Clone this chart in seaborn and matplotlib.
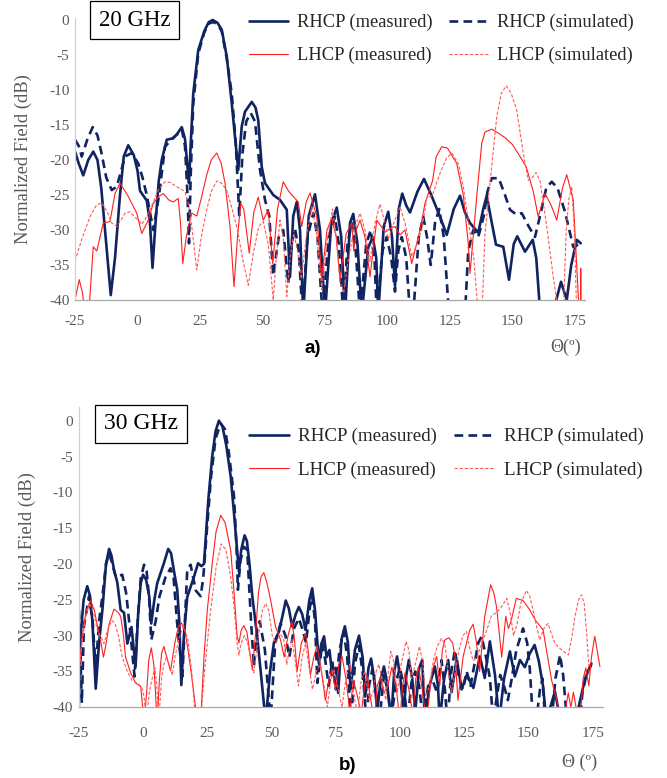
import numpy as np
import pandas as pd
import matplotlib
matplotlib.use("Agg")
import matplotlib.pyplot as plt
import seaborn as sns

# ---- 20 GHz data (theta in deg, normalized field in dB) ----
th20_rhcp_meas = [-25, -23.5, -21.7, -19.7, -17.7, -16, -14.5, -12.5, -10.7, -9, -7, -5.5, -3.7, -1.5, 0, 1, 3.7, 5, 6, 7.2, 8.5, 9.7, 11.7, 14.3, 16, 17.7, 19, 20, 20.6, 21.3, 22.3, 24.3, 26.7, 28.5, 30.1, 32, 33.7, 35.7, 37.7, 39, 40.3, 41.7, 43, 45.7, 47.2, 48.3, 49.7, 51, 54.3, 57, 59.7, 61, 62.3, 63.7, 65, 66.3, 68.5, 71, 73, 75, 77.5, 79.7, 81.5, 83, 85, 86.3, 88, 89.7, 92.3, 94.1, 95.5, 96.3, 98.5, 100.3, 101.8, 103, 104.5, 105.9, 107.5, 109, 112, 114.6, 117.5, 121, 123.7, 126.5, 129, 131, 133, 136.3, 138.3, 139.7, 141.2, 143.4, 146.3, 148.6, 150.5, 151.9, 155, 158.1, 159.5, 160.7, 162, 166, 167.5, 169.4, 171.7, 173.5, 175.7, 177.3]
db20_rhcp_meas = [-18.8, -20.5, -22.2, -20, -18.8, -20, -24, -32, -39.3, -34, -25, -19.5, -17.9, -19.3, -21.5, -24.4, -25.8, -29, -35.4, -29, -23, -20, -17.1, -16.9, -16.2, -15.3, -17, -21, -23.3, -17.6, -10.5, -4.3, -1.6, -0.3, 0, -0.4, -1.4, -5.2, -11.9, -16.7, -21.4, -15.2, -13.1, -11.7, -12.5, -14.3, -21, -23.3, -25, -25.7, -27.1, -36.7, -28, -26, -30, -42, -28, -24.9, -30, -42, -29, -26.8, -31, -42, -29, -27.7, -32, -42, -32.5, -31, -34, -42, -29.5, -27.4, -31, -38, -27, -24.8, -26.5, -27.5, -24.5, -22.7, -25, -28.1, -30.7, -27, -25.1, -27.5, -29, -30.4, -27, -25.1, -28, -32.1, -32.4, -37.1, -32, -30.9, -33.1, -31.4, -34, -40, -45, -45, -40, -37.4, -40, -35, -31.4, -31.9]

th20_rhcp_sim = [-25, -23.5, -22.3, -20, -17.9, -16, -14.4, -12.5, -10.3, -8.3, -6.5, -5, -2.3, 0.3, 2, 3.7, 5, 6.3, 7.5, 8.7, 11, 14.3, 16, 17.7, 19, 20, 20.6, 21.3, 22.3, 24.3, 26.7, 28.5, 30.3, 32, 33.7, 35.7, 37.7, 39.3, 40.7, 42, 43.5, 45.3, 47, 49, 51, 52.7, 54.3, 56.5, 58.3, 60.3, 61.5, 63, 64.5, 66, 68, 70.3, 72, 74, 76.5, 79, 80.5, 82.3, 84, 85.7, 87.3, 89, 91.5, 93.3, 94.8, 95.7, 98, 99.7, 101.5, 103, 104.3, 105.7, 107.5, 109, 110.3, 112.5, 114.3, 115.8, 117.3, 119, 120.7, 122.5, 124.6, 131, 132.3, 134.3, 136.3, 138.5, 140, 141.7, 144.5, 147, 149, 151.5, 153.7, 156.5, 159, 161, 163.5, 165.7, 168, 171, 174.3, 177]
db20_rhcp_sim = [-17.1, -18, -19.5, -17, -15.3, -16.5, -19, -22.5, -24.3, -23.8, -21.5, -19.5, -19, -20.5, -22.5, -25, -27.5, -30, -27.5, -24.8, -18.1, -16.8, -16.3, -15.6, -18, -25, -31.9, -22, -12, -4.8, -1.8, -0.5, -0.3, -0.6, -1.6, -5.5, -10.5, -17.5, -27.9, -19, -14.5, -13.3, -14.5, -21.4, -25.7, -28, -36.5, -31, -30, -37.6, -32, -29.8, -33, -42, -31, -27.6, -31, -42, -31, -28.1, -32, -42, -32, -29, -33, -42, -32, -30, -34, -42, -33, -31, -34, -38.8, -33, -31, -34, -42, -42, -31, -28.1, -31, -35, -29, -27, -31, -42, -42, -33, -30, -31, -28, -24.5, -22.6, -22.6, -25, -27.1, -27.8, -27.6, -29.5, -31, -28, -24, -23.1, -24, -27.4, -32.4, -32]

th20_lhcp_meas = [-25, -23.3, -22, -21, -19.5, -17.7, -16.3, -13.7, -11, -9, -7, -3.7, -0.3, 1.7, 4.3, 6.3, 8.5, 10.3, 12.5, 14.3, 16.3, 17.2, 18.1, 19.5, 21.7, 23.7, 25.5, 27.7, 29.5, 31.7, 33.5, 35, 37, 38.6, 40, 41.3, 42.5, 44.7, 46.5, 48.3, 50.3, 52.3, 54.1, 56, 58.3, 60.5, 62.3, 64.3, 65.7, 67.5, 69, 71.7, 73.7, 75.8, 77.7, 79.5, 81, 83.5, 85.7, 86.5, 87.5, 89, 91, 93, 95.7, 97.5, 99, 101, 103, 105, 107, 109.7, 113, 115, 118, 119.5, 121.7, 124, 126, 127.7, 130.3, 132.3, 133, 135.7, 137.7, 139, 141.7, 144.5, 147, 150, 153, 155.5, 158.3, 160.3, 163, 165.5, 167.7, 170, 171.7, 174.3, 176.7, 177.2, 177.3, 177.4]
db20_lhcp_meas = [-40, -37.1, -39, -42, -42, -32.4, -33, -29, -28.8, -24.8, -23.3, -25.2, -27.6, -30.5, -28.6, -26.2, -25.2, -24.8, -25.7, -26, -25.5, -29, -34.8, -31, -27.6, -28, -25.5, -22.1, -20, -19, -20.5, -23.3, -29.5, -38.1, -31, -26.2, -27, -33.3, -27.5, -25.3, -28.6, -27.1, -34.8, -27, -23.1, -24.5, -25.2, -26, -29.5, -26, -24.7, -28.1, -36.7, -30, -28.3, -31, -37.1, -30.5, -29, -33, -30, -28.6, -31, -36.7, -28.6, -29.5, -30.3, -29.8, -29.5, -30.7, -30, -34.8, -30, -26.2, -23, -19.5, -18.1, -18.3, -19.5, -20.5, -25, -31.9, -36.2, -25.2, -17.6, -16, -15.6, -16.2, -16.8, -17.8, -19.5, -21, -24.5, -28.1, -24.8, -26.5, -28.6, -24, -22.1, -25.7, -42, -42, -35.5, -42]

th20_lhcp_sim = [-25, -22, -19, -16.5, -14.3, -12, -10.3, -8.3, -6.5, -5, -3, -1, 0.3, 1.7, 3, 5, 8.3, 11, 13, 15.7, 19, 20.5, 21.7, 23.7, 25.5, 27.7, 29.5, 31.7, 33.5, 35.7, 38.3, 40, 42, 44.3, 46.5, 48.5, 50.3, 52.3, 54.3, 55.5, 57, 58.3, 59.7, 61, 62.5, 64, 65.5, 67.5, 69.7, 71.5, 73.7, 75.7, 78, 79.5, 81, 82.5, 84, 86.5, 89, 91, 93, 95, 97, 99, 100.3, 102.5, 105, 107, 109.7, 111.8, 113.7, 115.7, 118, 121, 123.5, 125.7, 128.3, 130.3, 132.3, 134.5, 136.3, 137.8, 139, 141, 143.7, 145.5, 147.5, 149.5, 151.7, 154.3, 156.3, 158, 159.4, 161, 163.7, 166.3, 167.7, 169.5, 170.5, 171.5, 172.5, 173.7, 174.7, 175.7]
db20_lhcp_sim = [-34.4, -31, -28.1, -26.5, -26.1, -27.5, -29, -29.5, -28.5, -27.6, -27.4, -28.2, -28.6, -29.2, -28.5, -27.1, -24.3, -23.1, -23.2, -23.8, -24.5, -26.5, -29.5, -35.7, -31, -27.1, -24.5, -23, -23.3, -24.3, -27.6, -30, -34, -37.9, -33, -29.5, -28.8, -32, -40, -34, -28.6, -31, -39.5, -34, -30.5, -33, -37, -31, -26.7, -30, -38.5, -32, -27, -31, -37.5, -39, -35, -30, -27.6, -30, -34.5, -29, -26.3, -29, -31.3, -29, -26.7, -29, -33.8, -32, -30, -25.5, -25, -21.9, -19.8, -19, -20.5, -23.8, -28.6, -34, -42, -42, -30.5, -23.3, -13.8, -10.5, -9.4, -10.5, -12.9, -19, -22.9, -22.5, -21.8, -23, -29.5, -36.7, -40, -45, -40, -30, -25.7, -23.8, -30, -42]

# ---- 30 GHz data ----
th30_rhcp_meas = [-25, -24.2, -23, -21.6, -20.5, -19.6, -18.3, -17, -15.7, -14.3, -13.1, -12.2, -11.2, -9.9, -8.6, -7.3, -6, -4.4, -2.8, -1.8, -0.8, 0.1, 1.3, 2.5, 3.3, 4.5, 5.6, 8.2, 9.9, 11, 12, 13.4, 14.2, 15, 16, 17.3, 19.9, 21.5, 22.8, 23.8, 24.5, 25.5, 27, 28.3, 29.6, 31, 32.5, 34.2, 35.5, 36.7, 37.4, 38.3, 39.6, 40.5, 41.5, 42.6, 44.5, 47.8, 49.5, 51, 53, 54.5, 55.6, 56.8, 58.1, 59.5, 60.7, 62, 63.3, 64.8, 65.9, 67, 68.5, 69.4, 70.5, 71.5, 72.6, 73.7, 75, 76, 77.3, 78.6, 79.8, 80.8, 82.5, 84.1, 85.5, 86.5, 87.8, 88.8, 90, 91.2, 92.6, 93.8, 95, 96.6, 97.8, 98.9, 100.2, 101.5, 102.5, 103.5, 104.8, 106, 107.5, 108.7, 109.7, 111.5, 113.6, 114.8, 115.5, 117.2, 118.8, 120.1, 122.1, 124, 126, 128.6, 131.1, 133, 135, 137, 138.6, 140.5, 142.8, 144.7, 146.7, 148.6, 150.5, 152.4, 154, 155.7, 157, 158.5, 160.3, 162, 164, 168, 169.5, 172, 174.5]
db30_rhcp_meas = [-42, -30, -25, -23.1, -24.5, -28, -37.4, -31, -26.4, -20, -17.9, -18.8, -20.8, -22.6, -26.4, -26.8, -31.1, -28.8, -34.3, -27, -22.7, -21.5, -22.2, -24.5, -28.3, -25, -22.7, -19.9, -17.9, -18.5, -20.7, -23.6, -28, -36.9, -30, -24.6, -21.8, -19.9, -20.3, -20, -16.2, -11, -5, -1.5, 0, -0.8, -3.5, -7.8, -13, -18.1, -21.1, -18, -16, -16.8, -20, -24.5, -30.1, -42, -35, -31, -29.4, -27, -25.1, -26.2, -28.7, -27, -26, -27, -29.2, -25, -23.4, -26.5, -33.9, -31.2, -30.1, -33, -32, -35.5, -34.5, -38, -30.5, -28.7, -31, -37.5, -32, -30, -33, -38.5, -34.5, -33.2, -36, -40.5, -36, -34.3, -36.5, -42, -35, -32.9, -36, -41, -35.5, -33.4, -36, -40.5, -34.5, -33.4, -42, -37, -34.3, -37, -42, -36, -33.4, -37.9, -33.2, -37.5, -35.5, -37.3, -32.9, -35.9, -30.8, -35.5, -42, -36, -32.2, -35.7, -33.4, -34.4, -32.5, -31.3, -33.5, -37.1, -42, -40, -37.8, -41, -45, -45, -40, -36, -33.9]

th30_rhcp_sim = [-25, -24.5, -23.7, -22.9, -20.9, -19.5, -18.3, -17, -15.7, -14.3, -13, -11.7, -10.5, -8, -6.5, -5, -3.2, -2, -0.8, 0.5, 1.5, 2.5, 3.3, 5, 6.5, 8.9, 10.8, 12, 13.4, 15.4, 16.5, 17.3, 18.6, 20.6, 22.5, 23.5, 25, 26.5, 28.3, 30.3, 32, 33.5, 35.5, 36.5, 37, 38, 39.3, 40.6, 42, 43.2, 44.5, 45.5, 47.5, 49.7, 51.5, 53.6, 55.5, 57, 58.8, 60.7, 62, 63.5, 65, 65.9, 67, 67.9, 69.8, 71, 72.3, 73.7, 75, 76.5, 78.2, 79.5, 81, 82.5, 84, 85.5, 87, 88, 89.3, 90.8, 92, 93.8, 95.5, 96.5, 98.5, 100, 101.5, 103, 104.5, 106, 107.5, 109, 111, 113, 114.5, 116.2, 117.5, 118.5, 120, 121.4, 123, 124.5, 126, 127.5, 129, 130.5, 131.8, 133.5, 135, 136.3, 137.5, 139, 140.5, 142, 143.5, 145.3, 147.9, 149.5, 150.5, 151.8, 153, 154.5, 155.5, 156.5, 159, 160.5, 162.3, 163.5, 165, 170, 171, 172.5, 174.5]
db30_rhcp_sim = [-24.5, -30, -39.4, -28.7, -24.5, -28, -34.7, -28, -24.5, -20, -18.5, -20.2, -21.8, -21.5, -24, -29, -35.7, -28, -22, -20.1, -21, -25, -30.6, -28, -24.5, -21.8, -20.6, -22, -28.4, -35.7, -27, -20.8, -20.1, -23.7, -24.5, -22, -15, -8, -2.5, -0.4, -1.2, -4.5, -10.6, -18, -23.6, -19.5, -17.6, -18, -27.3, -34.3, -29, -28, -32, -42, -31, -28.3, -30, -33, -29, -27.6, -29, -31, -26, -24.5, -28, -36.6, -31.1, -33.5, -37, -33.5, -37.5, -32, -29.4, -33, -42, -34, -31.4, -35, -42, -37, -34.7, -38, -42, -35.5, -38, -42, -36.5, -34.5, -37, -42, -36.5, -35, -37, -42, -37, -36.5, -38, -33.4, -37.5, -42, -35, -32, -36, -37.5, -35, -37, -34, -31, -30.1, -33, -35.9, -42, -39, -35.5, -37, -39, -36, -32, -29, -31, -34.5, -42, -42, -37.5, -36, -42, -42, -36, -32.7, -35.5, -42, -42, -38, -35.5, -34]

th30_lhcp_meas = [-25, -23.5, -22, -20.3, -18.8, -17.8, -16.5, -15.3, -14.2, -13.1, -11.2, -9.5, -8.6, -7.5, -6.7, -4.7, -2.8, -0.8, 0.5, 1.5, 2.3, 3.3, 4.3, 5.6, 6.5, 7.3, 8.2, 9.3, 10.8, 12.5, 13.8, 15, 16.5, 18, 19.5, 21.2, 22.5, 23.8, 25.1, 27, 28.5, 30.3, 32, 34.2, 35.5, 36.7, 37.4, 38.3, 39.3, 40.5, 42.6, 43.8, 45, 46, 47.1, 48.4, 49.7, 51.6, 53.6, 55, 56.5, 58, 59, 60, 61.7, 63.3, 64.3, 65.2, 66.5, 67.8, 69.5, 71, 72.5, 73.6, 75, 76.3, 77.5, 79, 80.5, 82, 83.5, 85, 86.2, 87.2, 88.5, 90, 91.2, 92.4, 93.8, 95.3, 96.9, 98.5, 100, 101, 102, 103.5, 105, 106.2, 107.2, 108.5, 110.3, 112.5, 114.3, 115.5, 116.5, 117.5, 119, 120.5, 121.5, 122.6, 124.6, 127.2, 128.5, 129.8, 131, 133, 135.3, 136.5, 137.6, 138.9, 139.6, 141.2, 142.2, 143.2, 145.3, 147.9, 150.5, 153, 155.7, 157, 159, 161, 162.9, 164.5, 165.5, 166.5, 167.5, 169, 170, 171.3, 172.3, 173.5, 174.5, 175.8, 177.8]
db30_lhcp_meas = [-35.7, -30, -26.5, -25.1, -26.5, -28.4, -30.5, -33, -31, -28.4, -26.3, -26.8, -27.3, -30, -33, -35.2, -36.6, -37.1, -42, -38, -33.5, -31.7, -34, -42, -36, -32.5, -31.5, -33, -34.9, -31, -28.8, -28.2, -29.5, -33, -37, -42, -42, -33, -26.4, -20, -15.5, -13.2, -14.2, -18.1, -24, -30.1, -31, -29.2, -28.6, -29.5, -34.8, -30, -24, -21.8, -21.2, -22.8, -25, -28.7, -30.6, -33, -30, -28, -30.5, -35, -31, -29.7, -32, -35.5, -33, -31.4, -35, -39, -36, -34.7, -37.5, -34, -32.9, -36, -40.5, -36.2, -38.5, -41, -37, -35.5, -38.5, -42, -37, -35.8, -38, -37, -34.4, -37, -42, -37, -35.2, -37.5, -41, -36, -34.4, -37, -42, -35, -32.9, -37, -32, -30.6, -30.3, -31, -33, -39, -32.9, -29.2, -28.4, -31, -35, -27.3, -22.9, -24, -26, -30.6, -33, -27.3, -29, -28, -24.8, -25.1, -26.4, -28, -29.2, -32, -36.2, -39, -42, -40, -38, -40, -37.9, -41, -42, -36, -34.5, -37, -33, -30.1, -34.3]

th30_lhcp_sim = [-25, -24, -22.5, -20.8, -19, -17.5, -16.3, -15.1, -13.5, -12, -10.8, -9.5, -8, -6, -4.3, -2.4, -0.5, 0.5, 1.4, 2.5, 3.3, 4.7, 5.5, 6.2, 7.3, 8.2, 9.3, 10.5, 11.5, 12.5, 14, 15.5, 16, 17.5, 19, 20.6, 22.5, 24, 26.4, 28.5, 30.5, 32.3, 34.2, 35.5, 36.7, 37.4, 38.3, 39.5, 40.8, 42, 43.2, 45, 46.5, 47.8, 49, 50.4, 51.8, 53.6, 54.8, 56, 57, 58, 59.3, 60.5, 62, 63.3, 64.5, 66, 67.5, 69.1, 70.5, 71.8, 73.2, 74.3, 75.8, 77.5, 79, 80.5, 82, 83.5, 85, 86.5, 88, 89.5, 90.8, 91.8, 93, 94.5, 95.5, 96.5, 97.5, 99, 100.5, 102.4, 103.5, 104.5, 106, 107.6, 108.8, 110, 111.5, 113, 114.5, 116.2, 117.5, 118.8, 120, 121.5, 123, 124.5, 125.9, 127, 128.5, 130, 131.5, 133, 134.3, 135.6, 137.6, 139.5, 141.6, 143, 144.2, 145.5, 147, 149.2, 150.5, 151.8, 153, 154.4, 156, 157.6, 159, 160.3, 162.9, 165.5, 167, 168.1, 169.5, 170.6, 171.7, 172.5, 173.8]
db30_lhcp_sim = [-36.5, -32, -28, -25.4, -27, -29.5, -30.1, -31.1, -29, -27.9, -28.3, -30, -33, -35, -36.2, -36.6, -37.1, -38.5, -42, -38, -36.5, -34.5, -37, -42, -36, -34, -32.9, -34.3, -35.5, -33, -30.5, -29, -28.7, -30.5, -35, -42, -42, -35, -26.4, -20.5, -17.2, -18, -21.8, -26, -31.1, -32.7, -31, -30, -31, -33.5, -35.2, -30, -26.5, -25.5, -26.5, -30.1, -31, -29.8, -30.5, -34, -32, -30.5, -33.5, -37, -33, -31.1, -34, -37.5, -35, -34, -37, -40, -36, -34.7, -37, -40, -36, -34, -38, -41, -36, -35, -39, -38, -35, -34, -36, -39, -35, -32.2, -33.5, -38, -34, -30.8, -32, -36, -34, -31.5, -33.5, -38.5, -37, -33.5, -31.5, -30.4, -31.2, -35, -38, -35, -32, -30, -29.4, -31.5, -33.5, -33, -31.5, -30, -28.7, -27.2, -26.8, -26, -24.8, -27, -30, -28.5, -25.5, -23.7, -24.5, -26.4, -28.5, -30.6, -29, -28.3, -29.8, -31.1, -32, -32.7, -30, -27.3, -25, -24.3, -25.5, -29, -36]

x_ticks = [-25, 0, 25, 50, 75, 100, 125, 150, 175]
y_ticks = [0, -5, -10, -15, -20, -25, -30, -35, -40]
labels = ["RHCP (measured)", "LHCP (measured)", "RHCP (simulated)", "LHCP (simulated)"]

navy = "#0F2461"
red = "#FF1E1E"
pink = "#FF5A5A"
grey_txt = "#595959"

sns.set_style("white")
plt.rcParams["font.family"] = ["Liberation Serif", "DejaVu Serif"]

fig = plt.figure(figsize=(6.67, 7.78), dpi=100)


def panel(rect, ylim_top, data, pad_x):
    ax = fig.add_axes(rect)
    th_rm, db_rm, th_rs, db_rs, th_lm, db_lm, th_ls, db_ls = data
    sns.lineplot(x=th_rm, y=db_rm, ax=ax, color=navy, linewidth=1.9,
                 estimator=None, sort=False, label=labels[0])
    sns.lineplot(x=th_rs, y=db_rs, ax=ax, color=navy, linewidth=1.9,
                 linestyle=(0, (3.3, 2.0)), estimator=None, sort=False, label=labels[2])
    sns.lineplot(x=th_lm, y=db_lm, ax=ax, color=red, linewidth=0.8,
                 estimator=None, sort=False, label=labels[1])
    sns.lineplot(x=th_ls, y=db_ls, ax=ax, color=pink, linewidth=0.8,
                 linestyle=(0, (3.0, 1.6)), estimator=None, sort=False, label=labels[3])
    if ax.get_legend() is not None:
        ax.get_legend().remove()
    ax.set_xlim(-25, 179)
    ax.set_ylim(-40, ylim_top)
    ax.set_xticks(x_ticks)
    ax.set_yticks(y_ticks)
    ax.set_xticklabels([str(v) for v in x_ticks])
    ax.set_yticklabels([str(v) for v in y_ticks])
    ax.tick_params(axis="both", length=0, labelsize=11, colors=grey_txt)
    ax.tick_params(axis="x", pad=pad_x)
    ax.tick_params(axis="y", pad=4)
    for s in ["top", "right"]:
        ax.spines[s].set_visible(False)
    ax.spines["left"].set_color("#D0D0D0")
    ax.spines["bottom"].set_color("#A8A8A8")
    ax.spines["left"].set_linewidth(0.9)
    ax.spines["bottom"].set_linewidth(0.9)
    ax.set_ylabel("Normalized Field (dB)", fontsize=13.4, color=grey_txt, labelpad=12)
    ax.set_xlabel("")
    return ax


ax1 = panel([75 / 667, 1 - 300 / 778, 510 / 667, 282.1 / 778], 0.3,
            [th20_rhcp_meas, db20_rhcp_meas, th20_rhcp_sim, db20_rhcp_sim,
             th20_lhcp_meas, db20_lhcp_meas, th20_lhcp_sim, db20_lhcp_sim], 11)
ax2 = panel([78.5 / 667, 1 - 707.3 / 778, 524.5 / 667, 300.6 / 778], 1.95,
            [th30_rhcp_meas, db30_rhcp_meas, th30_rhcp_sim, db30_rhcp_sim,
             th30_lhcp_meas, db30_lhcp_meas, th30_lhcp_sim, db30_lhcp_sim], 14)

panels = [
    (ax1, "20 GHz", 16.5, (134.5, 20), (249, 14), 13.3, (566, 347), "\u0398(\u00ba)", (313, 349), "a)"),
    (ax2, "30 GHz", 17.0, (141, 424), (249, 428), 13.7, (580, 762), "\u0398 (\u00ba)", (348, 765), "b)"),
]
for ax, box_txt, box_fs, (bx, by), (lx, ly), leg_fs, (tx, ty), tlab, (px, py), plab in panels:
    h, l = ax.get_legend_handles_labels()
    hd = dict(zip(l, h))
    fig.legend([hd[s] for s in labels], labels, loc="upper left",
               bbox_to_anchor=(lx / 667, 1 - ly / 778), ncol=2, frameon=False,
               fontsize=leg_fs, handlelength=2.1, handletextpad=0.5,
               columnspacing=0.9, labelspacing=0.85, borderpad=0, borderaxespad=0)
    fig.text(bx / 667, 1 - by / 778, box_txt,
             ha="center", va="center", fontsize=box_fs, color="black",
             bbox=dict(boxstyle="square,pad=0.38", fc="white", ec="black", lw=0.9))
    fig.text(tx / 667, 1 - ty / 778, tlab, ha="center", va="center",
             fontsize=13, color=grey_txt)
    fig.text(px / 667, 1 - py / 778, plab, ha="center", va="center",
             fontsize=13.5, fontweight="bold", family="Liberation Sans", color="black")

fig.savefig("out.png", dpi=100)
